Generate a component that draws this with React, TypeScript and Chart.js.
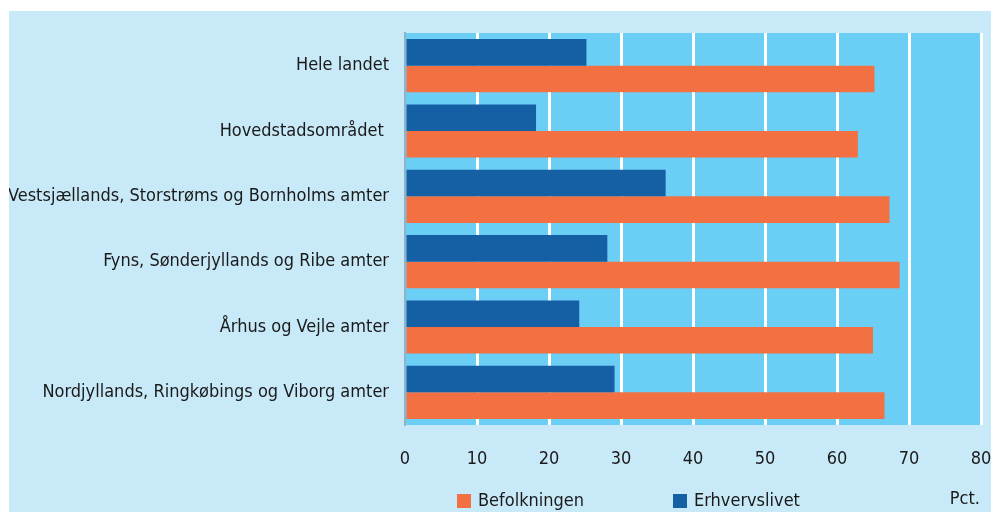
import React, { useEffect, useRef } from "react";
import { Chart, registerables } from "chart.js";

Chart.register(...registerables);

const categories = [
  "Hele landet",
  "Hovedstadsområdet ",
  "Vestsjællands, Storstrøms og Bornholms amter",
  "Fyns, Sønderjyllands og Ribe amter",
  "Århus og Vejle amter",
  "Nordjyllands, Ringkøbings og Viborg amter",
];
const erhvervslivet = [25.2, 18.2, 36.2, 28.1, 24.2, 29.1];
const befolkningen = [65.2, 62.9, 67.3, 68.7, 65.0, 66.6];
const xTickValues = [0, 10, 20, 30, 40, 50, 60, 70, 80];
const unitLabel = "Pct.";

const FONT = "'DejaVu Sans Condensed', 'Liberation Sans Narrow', sans-serif";
const TEXT = "#1a1a1a";
const ORANGE = "#f37043";
const BLUE = "#1560a5";
const PLOT_BG = "#6bcef5";
const OUTER_BG = "#c8e9f8";

const plotBgPlugin = {
  id: "plotBg",
  beforeDraw(chart: any) {
    const { ctx, chartArea } = chart;
    ctx.save();
    ctx.fillStyle = PLOT_BG;
    ctx.fillRect(chartArea.left, chartArea.top, chartArea.right - chartArea.left, chartArea.bottom - chartArea.top);
    ctx.restore();
  },
};

const legendPlugin = {
  id: "customLegend",
  afterDraw(chart: any) {
    const { ctx } = chart;
    const ds = chart.data.datasets;
    const items = [
      { label: ds[1].label, color: ds[1].backgroundColor, x: 448 },
      { label: ds[0].label, color: ds[0].backgroundColor, x: 664 },
    ];
    ctx.save();
    ctx.font = `18px ${FONT}`;
    ctx.textBaseline = "middle";
    ctx.textAlign = "left";
    for (const it of items) {
      ctx.fillStyle = it.color;
      ctx.fillRect(it.x, 483, 14, 14);
      ctx.fillStyle = TEXT;
      ctx.fillText(it.label, it.x + 21, 490);
    }
    ctx.textAlign = "right";
    ctx.fillText(unitLabel, 971, 488);
    ctx.restore();
  },
};

const zeroPad = (scale: any) => {
  scale.paddingLeft = 0;
  scale.paddingRight = 0;
  scale.paddingTop = 0;
  scale.paddingBottom = 0;
};

export default function App() {
  const ref = useRef<HTMLCanvasElement | null>(null);

  useEffect(() => {
    document.body.style.margin = "0";
    const canvas = ref.current;
    if (!canvas) return;
    const chart = new Chart(canvas, {
      type: "bar",
      data: {
        labels: categories,
        datasets: [
          {
            label: "Erhvervslivet",
            data: erhvervslivet,
            backgroundColor: BLUE,
            categoryPercentage: 0.815,
            barPercentage: 1,
          },
          {
            label: "Befolkningen",
            data: befolkningen,
            backgroundColor: ORANGE,
            categoryPercentage: 0.815,
            barPercentage: 1,
          },
        ],
      },
      options: {
        indexAxis: "y",
        animation: false,
        responsive: false,
        maintainAspectRatio: false,
        layout: { padding: { top: 22, right: 10, left: 0, bottom: 0 } },
        plugins: {
          legend: { display: false },
          tooltip: { enabled: false },
        },
        scales: {
          x: {
            min: 0,
            max: 80,
            afterBuildTicks: (scale: any) => {
              scale.ticks = xTickValues.map((v) => ({ value: v }));
            },
            afterFit: (scale: any) => {
              scale.height = 87;
              zeroPad(scale);
            },
            grid: {
              color: (c: any) => (c.index === 0 ? "rgba(0,0,0,0)" : "#ffffff"),
              lineWidth: 3,
              drawTicks: false,
            },
            border: { display: false },
            ticks: {
              padding: 24,
              color: TEXT,
              font: { family: FONT, size: 18 },
              maxRotation: 0,
            },
          },
          y: {
            afterFit: (scale: any) => {
              scale.width = 396;
              zeroPad(scale);
            },
            grid: { display: false, drawTicks: false },
            border: { display: true, color: "#8fb3c6", width: 2 },
            ticks: {
              padding: 16,
              color: TEXT,
              font: { family: FONT, size: 18 },
            },
          },
        },
      },
      plugins: [plotBgPlugin, legendPlugin],
    });
    return () => chart.destroy();
  }, []);

  return (
    <div style={{ marginTop: 11, marginLeft: 9, width: 982, height: 501, background: OUTER_BG }}>
      <canvas ref={ref} width={982} height={501} style={{ display: "block" }} />
    </div>
  );
}
